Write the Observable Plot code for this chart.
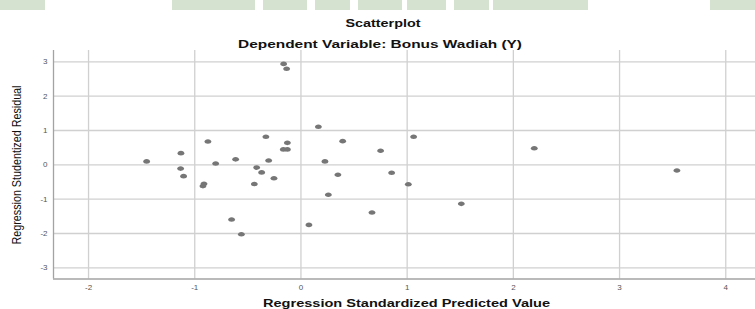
<!DOCTYPE html>
<html>
<head>
<meta charset="utf-8">
<script src="https://cdn.jsdelivr.net/npm/d3@7"></script>
<script src="https://cdn.jsdelivr.net/npm/@observablehq/plot@0.6"></script>
<style>
  html, body { margin: 0; padding: 0; background: #fff; }
  #page { position: relative; width: 755px; height: 309px; overflow: hidden; background: #fff; }
  .band { position: absolute; top: 0; height: 10px; background: #d6e2d0; }
  #chart { position: absolute; left: 0; top: 50px; }
  #labels { position: absolute; left: 0; top: 0; pointer-events: none; }
</style>
</head>
<body>
<div id="page">
  <div id="chart"></div>
  <svg id="labels" width="755" height="309"></svg>
</div>
<script>
// ---- data ----
const titleText = "Scatterplot";
const subtitleText = "Dependent Variable: Bonus Wadiah (Y)";
const xLabelText = "Regression Standardized Predicted Value";
const yLabelText = "Regression Studentized Residual";

const xTicks = [-2, -1, 0, 1, 2, 3, 4];
const yTicks = [-3, -2, -1, 0, 1, 2, 3];
const xDomain = [-2.33, 4.28];
const yDomain = [-3.325, 3.33];

const predicted = [
  -1.453, -1.13, -1.133, -1.105, -0.876, -0.803, -0.913, -0.923, -0.615,
  -0.653, -0.561, -0.417, -0.439, -0.37, -0.304, -0.254, -0.33, -0.163,
  -0.135, -0.128, -0.166, -0.128, 0.164, 0.393, 0.226, 0.348, 0.258,
  0.075, 0.669, 0.75, 0.854, 1.011, 1.061, 1.51, 2.197, 3.54
];
const residual = [
  0.10, 0.34, -0.11, -0.33, 0.68, 0.04, -0.55, -0.62, 0.16,
  -1.59, -2.02, -0.08, -0.56, -0.22, 0.125, -0.39, 0.82, 2.94,
  2.80, 0.64, 0.45, 0.45, 1.11, 0.69, 0.10, -0.29, -0.87,
  -1.75, -1.39, 0.41, -0.23, -0.565, 0.82, -1.136, 0.484, -0.166
];

// decorative band of the scanned page (left, right in px)
const bannerBlocks = [[0,45],[172,255],[263,307],[315,350],[358,402],[407,446],[454,489],[493,588],[710,755]];

// ---- page decoration ----
const page = document.getElementById("page");
bannerBlocks.forEach(([a, b]) => {
  const d = document.createElement("div");
  d.className = "band";
  d.style.left = a + "px";
  d.style.width = (b - a) + "px";
  page.insertBefore(d, page.firstChild);
});

// ---- chart ----
const data = predicted.map((x, i) => ({x, y: residual[i]}));
const ellipse = {
  draw(ctx) {
    const rx = 3.4, ry = 2.3, k = 0.5523;
    ctx.moveTo(rx, 0);
    ctx.bezierCurveTo(rx, ry * k, rx * k, ry, 0, ry);
    ctx.bezierCurveTo(-rx * k, ry, -rx, ry * k, -rx, 0);
    ctx.bezierCurveTo(-rx, -ry * k, -rx * k, -ry, 0, -ry);
    ctx.bezierCurveTo(rx * k, -ry, rx, -ry * k, rx, 0);
    ctx.closePath();
  }
};
const fmt = d => String(d);

const chart = Plot.plot({
  width: 755,
  height: 259,
  marginLeft: 53,
  marginRight: 0,
  marginTop: 0,
  marginBottom: 30.5,
  style: {fontFamily: "'Liberation Sans', Arial, sans-serif", fontSize: "8px", color: "#555", background: "transparent"},
  x: {domain: xDomain, label: null},
  y: {domain: yDomain, label: null},
  marks: [
    Plot.gridX(xTicks, {stroke: "#d0d0d0", strokeOpacity: 1, strokeWidth: 1.3}),
    Plot.gridY(yTicks, {stroke: "#d0d0d0", strokeOpacity: 1, strokeWidth: 1.3}),
    Plot.ruleX([xDomain[0]], {stroke: "#a3a3a3", strokeWidth: 1.3}),
    Plot.ruleY([yDomain[0]], {stroke: "#a3a3a3", strokeWidth: 1.3}),
    Plot.axisX(xTicks, {tickSize: 0, tickPadding: 5, tickFormat: fmt, label: null}),
    Plot.axisY(yTicks, {tickSize: 0, tickPadding: 6, tickFormat: fmt, label: null}),
    Plot.dot(data, {x: "x", y: "y", symbol: ellipse, fill: "#767676", stroke: "none"})
  ]
});
document.getElementById("chart").appendChild(chart);

// ---- titles and axis labels ----
const svg = d3.select("#labels");
const font = "'Liberation Sans', Arial, sans-serif";
function label(text, x, y, len, opts = {}) {
  const t = svg.append("text")
    .attr("x", x).attr("y", y)
    .attr("text-anchor", "middle")
    .attr("font-family", font)
    .attr("font-size", opts.size || 10.5)
    .attr("font-weight", opts.weight || "bold")
    .attr("fill", opts.fill || "#111")
    .attr("textLength", len)
    .attr("lengthAdjust", "spacingAndGlyphs")
    .text(text);
  if (opts.transform) t.attr("transform", opts.transform);
  return t;
}
label(titleText, 383, 27.3, 75);
label(subtitleText, 380, 47.5, 284);
label(xLabelText, 406.5, 306.5, 287);
label(yLabelText, 0, 0, 159, {weight: "normal", size: 12.5, transform: "translate(21,165) rotate(-90)"});
</script>
</body>
</html>
